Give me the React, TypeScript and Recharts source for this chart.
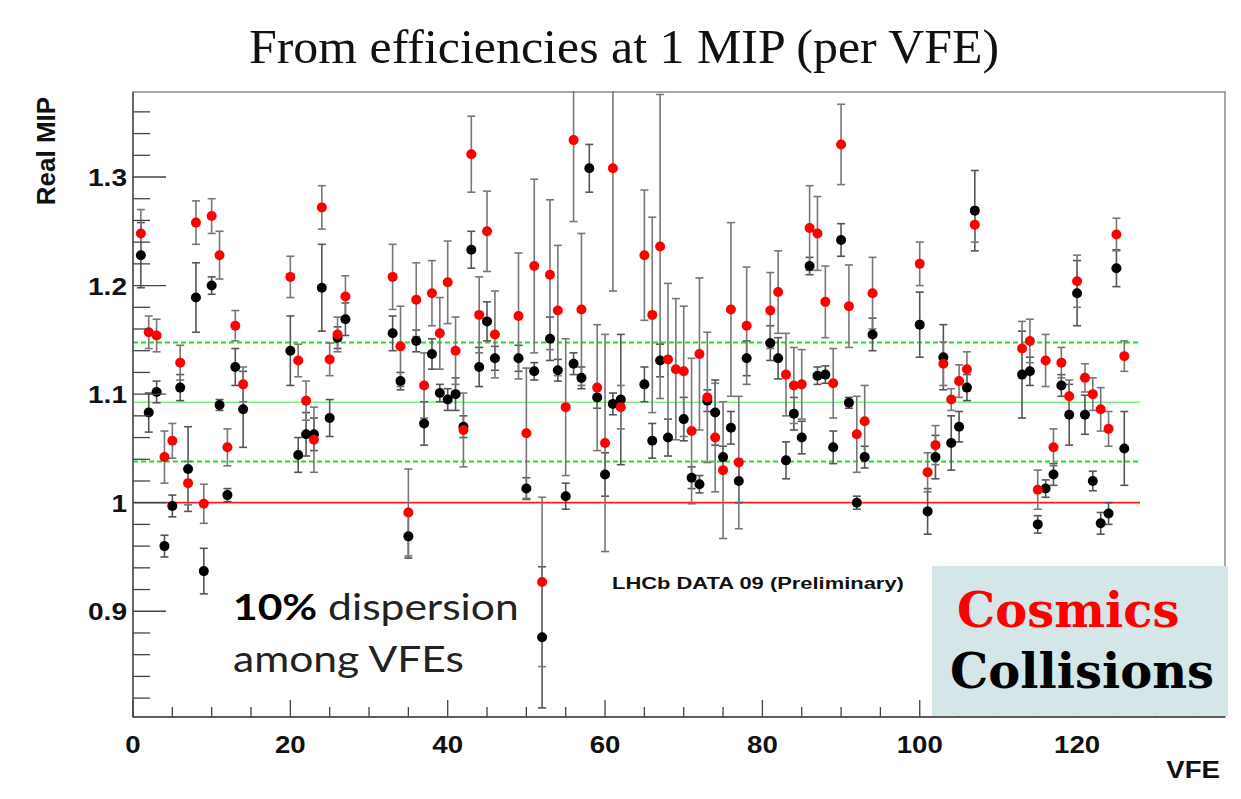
import React from "react";
import {
  ErrorBar,
  ReferenceArea,
  ReferenceLine,
  Scatter,
  ScatterChart,
  XAxis,
  YAxis
} from "recharts";

// VFE index of every measured channel
const vfe = [
  1, 2, 3, 4, 5, 6, 7, 8, 9, 10, 11, 12, 13, 14,
  20, 21, 22, 23, 24, 25, 26, 27,
  33, 34, 35, 36, 37, 38, 39, 40, 41, 42, 43, 44, 45, 46,
  49, 50, 51, 52, 53, 54, 55, 56, 57, 58, 59, 60, 61, 62,
  65, 66, 67, 68, 69, 70, 71, 72, 73, 74, 75, 76, 77, 78,
  81, 82, 83, 84, 85, 86, 87, 88, 89, 90, 91, 92, 93, 94,
  100, 101, 102, 103, 104, 105, 106, 107,
  113, 114, 115, 116, 117, 118, 119, 120, 121, 122, 123, 124, 125, 126
];

const cosmics = [
  1.248, 1.157, 1.154, 1.042, 1.057, 1.129, 1.018, 1.258, 0.999, 1.264, 1.228, 1.051, 1.163, 1.109,
  1.208, 1.131, 1.094, 1.058, 1.272, 1.132, 1.155, 1.19,
  1.208, 1.144, 0.991, 1.187, 1.108, 1.193, 1.156, 1.203, 1.14, 1.067, 1.321, 1.173, 1.25, 1.155,
  1.172, 1.064, 1.218, 0.927, 1.21, 1.177, 1.088, 1.334, 1.178, null, 1.106, 1.055, 1.308, 1.088,
  1.228, 1.173, 1.236, 1.132, 1.123, 1.121, 1.066, 1.137, 1.097, 1.06, 1.03, 1.178, 1.037, 1.163,
  1.177, 1.194, 1.118, 1.108, 1.109, 1.253, 1.248, 1.185, 1.11, 1.33, 1.181, 1.063, 1.075, 1.193,
  1.22, 1.028, 1.053, 1.128, 1.095, 1.112, 1.123, 1.256,
  1.142, 1.149, 1.012, 1.131, 1.051, 1.129, 1.098, 1.204, 1.115, 1.1, 1.086, 1.068, 1.247, 1.135
];

const cosmicsErr = [
  0.022, 0.015, 0.015, 0.024, 0.016, 0.016, 0.02, 0.02, 0.018, 0.016, 0.022, 0.017, 0.014, 0.016,
  0.019, 0.015, 0.018, 0.03, 0.02, 0.015, 0.016, 0.019,
  0.03, 0.037, 0.04, 0.034, 0.03, 0.03, 0.033, 0.038, 0.031, 0.034, 0.035, 0.035, 0.037, 0.04,
  0.058, 0.06, 0.08, 0.078, 0.069, 0.06, 0.063, 0.075, 0.07, null, 0.058, 0.1, 0.113, 0.02,
  0.06, 0.09, 0.14, 0.07, 0.065, 0.06, 0.067, 0.07, 0.06, 0.05, 0.063, 0.08, 0.061, 0.054,
  0.035, 0.038, 0.038, 0.035, 0.032, 0.039, 0.034, 0.033, 0.032, 0.037, 0.038, 0.035, 0.033, 0.033,
  0.02, 0.018, 0.018, 0.02, 0.01, 0.015, 0.016, 0.016,
  0.025, 0.02, 0.018, 0.024, 0.017, 0.014, 0.015, 0.024, 0.013, 0.015, 0.02, 0.016, 0.015, 0.014
];

const collisions = [
  1.228, 1.083, 1.102, 0.96, 0.997, 1.106, 1.031, 1.189, 0.937, 1.2, 1.09, 1.007, 1.125, 1.086,
  1.14, 1.044, 1.063, 1.063, 1.198, 1.078, 1.152, 1.169,
  1.156, 1.112, 0.969, 1.149, 1.073, 1.137, 1.101, 1.095, 1.1, 1.07, 1.233, 1.125, 1.167, 1.133,
  1.133, 1.013, 1.121, 0.876, 1.151, 1.122, 1.006, 1.128, 1.115, 1.308, 1.097, 1.026, 1.091, 1.095,
  1.109, 1.057, 1.131, 1.06, null, 1.077, 1.023, 1.017, 1.094, 1.083, 1.042, 1.069, 1.02, 1.133,
  1.147, 1.133, 1.039, 1.082, 1.06, 1.218, 1.117, 1.118, 1.051, 1.242, 1.092, 1.0, 1.042, 1.155,
  1.164, 0.992, 1.042, 1.134, 1.055, 1.07, 1.106, 1.269,
  1.118, 1.121, 0.98, 1.013, 1.026, 1.108, 1.081, 1.193, 1.081, 1.02, 0.981, 0.99, 1.216, 1.05
];

const collisionsErr = [
  0.03, 0.018, 0.01, 0.01, 0.01, 0.012, 0.039, 0.032, 0.021, 0.008, 0.005, 0.006, 0.017, 0.035,
  0.032, 0.016, 0.02, 0.015, 0.04, 0.017, 0.01, 0.015,
  0.016, 0.008, 0.02, 0.01, 0.02, 0.014, 0.008, 0.01, 0.015, 0.01, 0.017, 0.018, 0.018, 0.011,
  0.012, 0.01, 0.008, 0.065, 0.02, 0.01, 0.012, 0.01, 0.01, 0.022, 0.01, 0.02, 0.01, 0.06,
  0.016, 0.016, 0.015, 0.017, null, 0.02, 0.01, 0.008, 0.01, 0.03, 0.01, 0.015, 0.02, 0.016,
  0.016, 0.019, 0.017, 0.015, 0.015, 0.008, 0.008, 0.008, 0.015, 0.015, 0.005, 0.006, 0.01, 0.015,
  0.03, 0.021, 0.02, 0.03, 0.025, 0.014, 0.012, 0.037,
  0.04, 0.013, 0.008, 0.008, 0.01, 0.01, 0.028, 0.03, 0.018, 0.009, 0.01, 0.01, 0.017, 0.034
];

// reference levels: nominal MIP, mean and +-5% band
const nominal = 1.0;
const meanMip = 1.0925;
const bandLow = 1.038;
const bandHigh = 1.1475;
const lineEnd = 128;

const xDomain = [0, 138.8];
const yDomain = [0.8026, 1.3783];

const xTicks = [0, 5, 10, 15, 20, 25, 30, 35, 40, 45, 50, 55, 60, 65, 70, 75, 80, 85, 90, 95, 100, 105, 110, 115, 120, 125, 130, 135];
const xMajor = [0, 20, 40, 60, 80, 100, 120];
const xLabels = ["0", "20", "40", "60", "80", "100", "120"];

const yTicks = [
  0.82, 0.84, 0.86, 0.88, 0.9, 0.92, 0.94, 0.96, 0.98, 1.0, 1.02, 1.04, 1.06, 1.08, 1.1,
  1.12, 1.14, 1.16, 1.18, 1.2, 1.22, 1.24, 1.26, 1.28, 1.3, 1.32, 1.34, 1.36
];
const yMajor = [0.9, 1.0, 1.1, 1.2, 1.3];
const yLabels = ["0.9", "1", "1.1", "1.2", "1.3"];

const cosmicsData = vfe
  .map((x, i) => ({ x, y: cosmics[i], err: cosmicsErr[i] }))
  .filter((d) => d.y !== null);
const collisionsData = vfe
  .map((x, i) => ({ x, y: collisions[i], err: collisionsErr[i] }))
  .filter((d) => d.y !== null);

const SANS = "'Liberation Sans', Arial, sans-serif";

function findMajor(list: number[], v: number) {
  return list.findIndex((m) => Math.abs(m - v) < 1e-6);
}

function YTick(props: any) {
  const { x, y, payload } = props;
  const idx = findMajor(yMajor, payload.value);
  const len = idx >= 0 ? 33 : 17;
  return (
    <g>
      <line x1={x} x2={x + len} y1={y} y2={y} stroke="#444" strokeWidth={1.3} />
      {idx >= 0 && (
        <text
          transform={`translate(${x - 6},${y + 9}) scale(1.17,1)`}
          textAnchor="end"
          fontFamily={SANS}
          fontWeight="bold"
          fontSize={24}
          fill="#111"
        >
          {yLabels[idx]}
        </text>
      )}
    </g>
  );
}

function XTick(props: any) {
  const { x, y, payload } = props;
  const idx = findMajor(xMajor, payload.value);
  const len = idx >= 0 ? 17 : 10;
  return (
    <g>
      <line x1={x} x2={x} y1={y} y2={y - len} stroke="#444" strokeWidth={1.3} />
      {idx >= 0 && (
        <text
          transform={`translate(${x},${y + 36}) scale(1.2,1)`}
          textAnchor="middle"
          fontFamily={SANS}
          fontWeight="bold"
          fontSize={23}
          fill="#111"
        >
          {xLabels[idx]}
        </text>
      )}
    </g>
  );
}

const dot = (color: string) => (p: any) =>
  <circle cx={p.cx} cy={p.cy} r={5} fill={color} />;

export default function App() {
  return (
    <div style={{ position: "absolute", left: 0, top: 0, width: 1241, height: 799, background: "#fff" }}>
      <ScatterChart
        width={1241}
        height={799}
        margin={{ top: 92, right: 16, bottom: 42, left: 73 }}
      >
        <XAxis
          type="number"
          dataKey="x"
          domain={xDomain}
          allowDataOverflow
          ticks={xTicks}
          interval={0}
          tick={<XTick />}
          tickLine={false}
          tickSize={0}
          tickMargin={0}
          height={40}
          axisLine={{ stroke: "#444", strokeWidth: 1.3 }}
        />
        <YAxis
          type="number"
          dataKey="y"
          domain={yDomain}
          allowDataOverflow
          ticks={yTicks}
          interval={0}
          tick={<YTick />}
          tickLine={false}
          tickSize={0}
          tickMargin={0}
          width={60}
          axisLine={{ stroke: "#444", strokeWidth: 1.3 }}
        />
        <ReferenceArea
          x1={xDomain[0]}
          x2={xDomain[1]}
          y1={yDomain[0]}
          y2={yDomain[1]}
          fill="none"
          stroke="#8c8c8c"
          strokeWidth={1.5}
        />
        <ReferenceLine
          segment={[{ x: 0, y: nominal }, { x: lineEnd, y: nominal }]}
          stroke="#ff1a1a"
          strokeWidth={1.8}
        />
        <ReferenceLine
          segment={[{ x: 0, y: meanMip }, { x: lineEnd, y: meanMip }]}
          stroke="#7ef07e"
          strokeWidth={1.5}
        />
        <ReferenceLine
          segment={[{ x: 0, y: bandLow }, { x: lineEnd, y: bandLow }]}
          stroke="#22dd22"
          strokeWidth={2}
          strokeDasharray="5 3"
        />
        <ReferenceLine
          segment={[{ x: 0, y: bandHigh }, { x: lineEnd, y: bandHigh }]}
          stroke="#22dd22"
          strokeWidth={2}
          strokeDasharray="5 3"
        />
        <Scatter
          name="Collisions"
          data={collisionsData}
          shape={dot("#000")}
          isAnimationActive={false}
        >
          <ErrorBar dataKey="err" direction="y" width={4} stroke="#555" strokeWidth={1.6} isAnimationActive={false} />
        </Scatter>
        <Scatter
          name="Cosmics"
          data={cosmicsData}
          shape={dot("#ff0000")}
          isAnimationActive={false}
        >
          <ErrorBar dataKey="err" direction="y" width={4} stroke="#777" strokeWidth={1.6} isAnimationActive={false} />
        </Scatter>
      </ScatterChart>

      <svg
        width={1241}
        height={799}
        style={{ position: "absolute", left: 0, top: 0, pointerEvents: "none" }}
      >
        {/* hides error bars running past the top of the frame */}
        <rect x={0} y={0} width={1241} height={91} fill="#fff" />
        <text
          transform="translate(624,63) scale(1.04,1)"
          textAnchor="middle"
          fontFamily="'Liberation Serif', serif"
          fontSize={48}
          fill="#111"
        >
          From efficiencies at 1 MIP (per VFE)
        </text>
        <text
          transform="translate(55,151) rotate(-90)"
          textAnchor="middle"
          fontFamily={SANS}
          fontWeight="bold"
          fontSize={26}
          fill="#111"
        >
          Real MIP
        </text>
        <text
          transform="translate(1220,778) scale(1.2,1)"
          textAnchor="end"
          fontFamily={SANS}
          fontWeight="bold"
          fontSize={23}
          fill="#111"
        >
          VFE
        </text>
        <text
          transform="translate(612,589) scale(1.29,1)"
          fontFamily={SANS}
          fontWeight="bold"
          fontSize={17}
          fill="#111"
        >
          LHCb DATA 09 (Preliminary)
        </text>
        <g transform="translate(233,620) scale(1.15,1)">
          <text x={0} y={0} fontFamily="Lato, 'Open Sans', sans-serif" fontSize={37} fill="#222">
            <tspan fontWeight="bold" fill="#000">10%</tspan> dispersion
          </text>
          <text x={0} y={52} fontFamily="Lato, 'Open Sans', sans-serif" fontSize={37} fill="#222">
            among VFEs
          </text>
        </g>
        <rect x={932} y={566} width={296} height={150} fill="#d4e6e8" />
        <text x={957} y={627} fontFamily="'DejaVu Serif', serif" fontWeight="bold" fontSize={48} fill="#ff0000">
          Cosmics
        </text>
        <text x={950} y={688} fontFamily="'DejaVu Serif', serif" fontWeight="bold" fontSize={48} fill="#000">
          Collisions
        </text>
      </svg>
    </div>
  );
}
